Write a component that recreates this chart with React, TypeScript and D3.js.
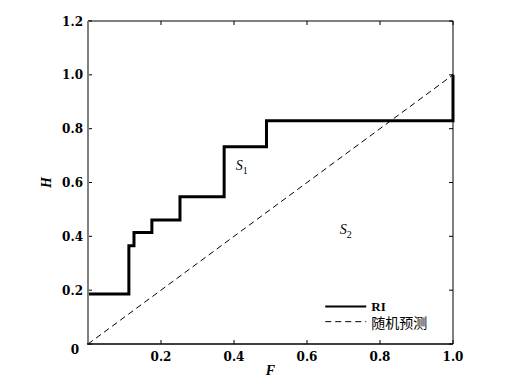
import React, { useEffect, useRef } from 'react';
import * as d3 from 'd3';

// step curve of RI (F = false alarm rate, H = hit rate)
const stepF = [0, 0.112, 0.112, 0.126, 0.126, 0.175, 0.175, 0.252, 0.252, 0.373, 0.373, 0.489, 0.489, 1.0, 1.0];
const stepH = [0.186, 0.186, 0.365, 0.365, 0.414, 0.414, 0.461, 0.461, 0.547, 0.547, 0.733, 0.733, 0.829, 0.829, 1.0];
// random prediction diagonal
const randF = [0, 1];
const randH = [0, 1];

const xTicks = [0.2, 0.4, 0.6, 0.8, 1.0];
const yTicks = [0, 0.2, 0.4, 0.6, 0.8, 1.0, 1.2];
const legendLabels = ['RI', '随机预测'];

const W = 524;
const H = 389;
const margin = { left: 88, right: 71, top: 21, bottom: 45 };
const font = '"Liberation Serif", "Times New Roman", serif';
const tickFont = '"DejaVu Serif", serif';
const cjkFont = '"Liberation Serif", "Noto Sans CJK SC", serif';

export default function App() {
  const ref = useRef<SVGSVGElement>(null);

  useEffect(() => {
    const svg = d3.select(ref.current);
    svg.selectAll('*').remove();

    const x = d3.scaleLinear().domain([0, 1]).range([margin.left, W - margin.right]);
    const y = d3.scaleLinear().domain([0, 1.2]).range([H - margin.bottom, margin.top]);
    const [x0, x1] = x.range();
    const [y0, y1] = y.range();

    svg.append('rect').attr('width', W).attr('height', H).attr('fill', '#fff');

    // frame
    svg.append('line').attr('x1', x0).attr('x2', x1).attr('y1', y1).attr('y2', y1)
      .attr('stroke', '#000').attr('stroke-width', 1);
    svg.append('line').attr('x1', x1).attr('x2', x1).attr('y1', y1).attr('y2', y0)
      .attr('stroke', '#000').attr('stroke-width', 1);

    // ticks on all sides, pointing in
    const tl = 4;
    xTicks.forEach(t => {
      svg.append('line').attr('x1', x(t)).attr('x2', x(t)).attr('y1', y0).attr('y2', y0 - tl)
        .attr('stroke', '#000');
      svg.append('line').attr('x1', x(t)).attr('x2', x(t)).attr('y1', y1).attr('y2', y1 + tl)
        .attr('stroke', '#000');
    });
    yTicks.forEach(t => {
      svg.append('line').attr('x1', x0).attr('x2', x0 + tl).attr('y1', y(t)).attr('y2', y(t))
        .attr('stroke', '#000');
      svg.append('line').attr('x1', x1).attr('x2', x1 - tl).attr('y1', y(t)).attr('y2', y(t))
        .attr('stroke', '#000');
    });

    // tick labels
    svg.append('g').selectAll('text').data(xTicks).enter().append('text')
      .attr('x', d => x(d)).attr('y', y0 + 17)
      .attr('text-anchor', 'middle')
      .style('font-family', tickFont).style('font-size', '12px').style('font-weight', 'bold')
      .text(d => d.toFixed(1));
    svg.append('g').selectAll('text').data(yTicks).enter().append('text')
      .attr('x', d => (d === 0 ? x0 - 9 : x0 - 5)).attr('y', d => (d === 0 ? y(d) + 10 : y(d) + 4.5))
      .attr('text-anchor', 'end')
      .style('font-family', tickFont).style('font-size', '12px').style('font-weight', 'bold')
      .text(d => (d === 0 ? '0' : d.toFixed(1)));

    // random diagonal
    const line = d3.line<number>().x((_, i) => x(randF[i])).y(d => y(d));
    svg.append('path').attr('d', line(randH))
      .attr('fill', 'none').attr('stroke', '#000').attr('stroke-width', 1)
      .attr('stroke-dasharray', '6,4');

    // RI step curve
    const sline = d3.line<number>().x((_, i) => x(stepF[i])).y(d => y(d));
    svg.append('path').attr('d', sline(stepH))
      .attr('fill', 'none').attr('stroke', '#000').attr('stroke-width', 3)
      .attr('stroke-linejoin', 'miter');

    // left and bottom axes
    svg.append('line').attr('x1', x0).attr('x2', x0).attr('y1', y1).attr('y2', y0)
      .attr('stroke', '#808080').attr('stroke-width', 2);
    svg.append('line').attr('x1', x0 - 1).attr('x2', x1).attr('y1', y0).attr('y2', y0)
      .attr('stroke', '#000').attr('stroke-width', 1.5);

    // axis titles
    svg.append('text').attr('x', x(0.5)).attr('y', y0 + 31).attr('text-anchor', 'middle')
      .style('font-family', font).style('font-size', '14px').style('font-weight', 'bold')
      .style('font-style', 'italic').text('F');
    svg.append('text').attr('transform', `translate(${x0 - 37},${y(0.6)}) rotate(-90)`)
      .attr('text-anchor', 'middle')
      .style('font-family', font).style('font-size', '14px').style('font-weight', 'bold')
      .style('font-style', 'italic').text('H');

    // region labels
    const region = (fx: number, hy: number, sub: string) => {
      const t = svg.append('text').attr('x', x(fx)).attr('y', y(hy))
        .style('font-family', font).style('font-size', '14px');
      t.append('tspan').style('font-style', 'italic').text('S');
      t.append('tspan').attr('dy', 4).style('font-size', '10px').text(sub);
    };
    region(0.405, 0.645, '1');
    region(0.69, 0.41, '2');

    // legend
    const lx = x(0.65);
    const ly = [y(0.139), y(0.083)];
    legendLabels.forEach((lab, i) => {
      svg.append('line').attr('x1', lx).attr('x2', lx + 41).attr('y1', ly[i]).attr('y2', ly[i])
        .attr('stroke', '#000').attr('stroke-width', i === 0 ? 2 : 1)
        .attr('stroke-dasharray', i === 0 ? null : '6,4');
      svg.append('text').attr('x', lx + 46).attr('y', ly[i] + (i === 0 ? 4 : 6))
        .style('font-family', i === 0 ? font : cjkFont)
        .style('font-size', i === 0 ? '13px' : '14px')
        .style('font-weight', i === 0 ? 'bold' : 'normal')
        .text(lab);
    });
  }, []);

  return <svg ref={ref} width={W} height={H} style={{ display: 'block', margin: -8 }} />;
}
